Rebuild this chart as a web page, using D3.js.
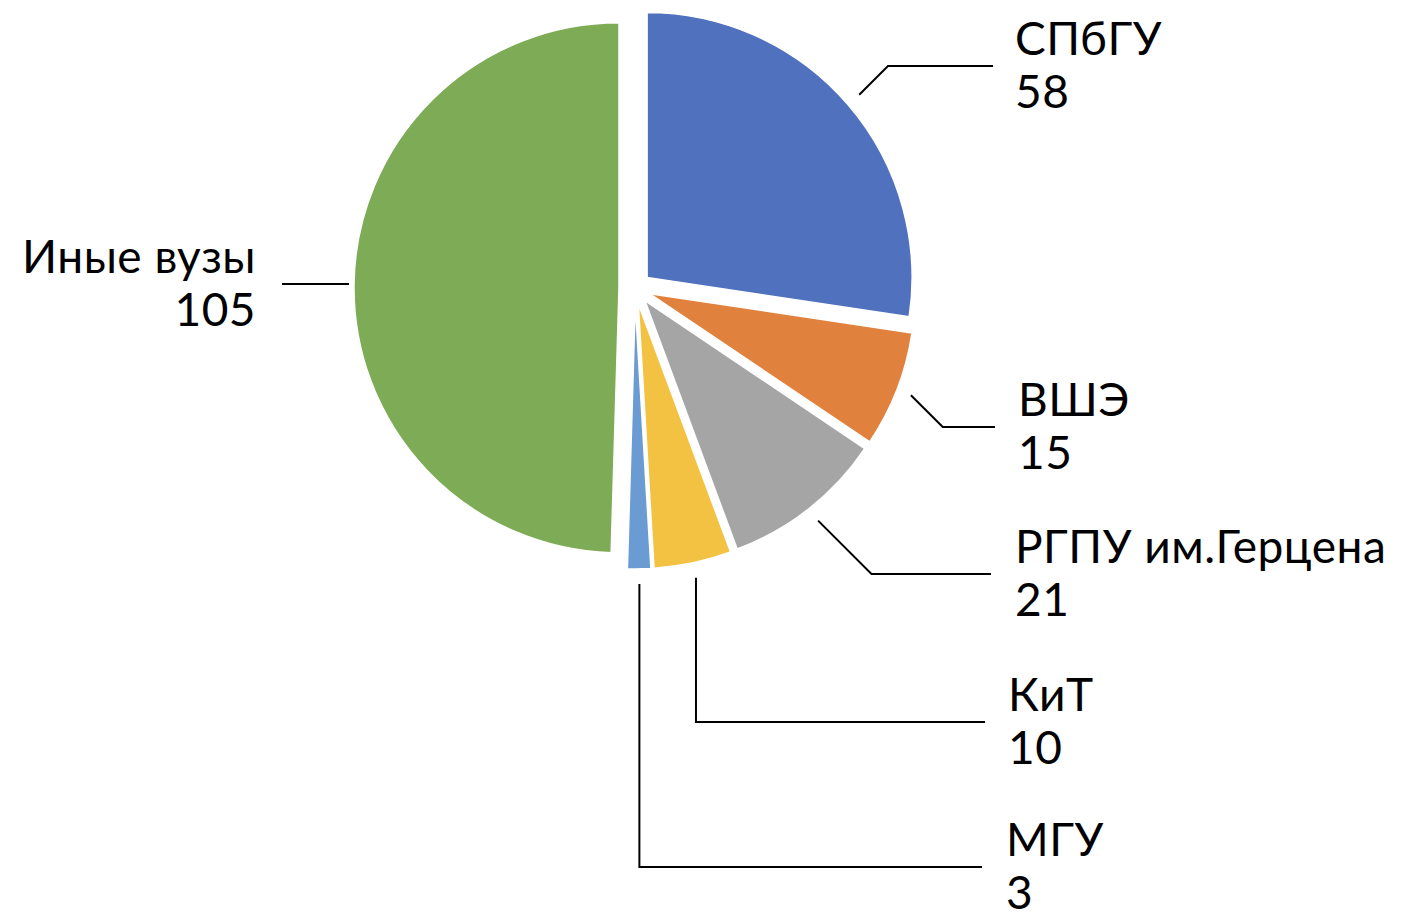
<!DOCTYPE html>
<html>
<head>
<meta charset="utf-8">
<script src="https://cdn.jsdelivr.net/npm/d3@7"></script>
<style>
  body { margin: 0; background: #fff; }
  svg text { font-family: Lato, "Open Sans", sans-serif; fill: #000; letter-spacing: 0.5px; }
</style>
</head>
<body>
<div id="chart"></div>
<script>
// Data
const categories = ['СПбГУ', 'ВШЭ', 'РГПУ им.Герцена', 'КиТ', 'МГУ', 'Иные вузы'];
const values = [58, 15, 21, 10, 3, 105];
const colors = ['#4F71BE', '#E0823D', '#A5A5A5', '#F3C243', '#6A9BD2', '#7EAB55'];

// Label layout: x of text, y of leader line (centre of the two-line label), leader style
const labelLayout = [
    {x: 1015, y: 66, lineEnd: 993, bend: 'diag', anchor: 'start'},
    {x: 1018, y: 427, lineEnd: 995, bend: 'diag', anchor: 'start'},
    {x: 1015, y: 574, lineEnd: 991, bend: 'diag', anchor: 'start'},
    {x: 1008, y: 722, lineEnd: 985, bend: 'vert', anchor: 'start'},
    {x: 1006, y: 867, lineEnd: 982, bend: 'vert', anchor: 'start'},
    {x: 256, y: 284, lineEnd: 282, bend: 'flat', anchor: 'end'}
];

const width = 1401;
const height = 915;
const cx = 635, cy = 288;
const radius = 265;
const explode = 16;

const svg = d3.select('#chart')
    .append('svg')
    .attr('width', width)
    .attr('height', height);

const g = svg.append('g')
    .attr('transform', `translate(${cx},${cy})`);

const data = categories.map((c, i) => ({name: c, value: values[i], color: colors[i], layout: labelLayout[i]}));

const pie = d3.pie()
    .sort(null)
    .value(d => d.value);

const arc = d3.arc()
    .innerRadius(0)
    .outerRadius(radius);

const arcs = pie(data);

// direction of slice middle
function dir(d) {
    const a = (d.startAngle + d.endAngle) / 2;
    return [Math.sin(a), -Math.cos(a)];
}

// Slices
g.selectAll('path.slice')
    .data(arcs)
    .enter()
    .append('path')
    .attr('class', 'slice')
    .attr('transform', d => {
        const [dx, dy] = dir(d);
        return `translate(${dx * explode},${dy * explode})`;
    })
    .attr('d', arc)
    .attr('fill', d => d.data.color)
    .attr('stroke', '#fff')
    .attr('stroke-width', 1.5);

// Leader lines
svg.selectAll('path.leader')
    .data(arcs)
    .enter()
    .append('path')
    .attr('class', 'leader')
    .attr('fill', 'none')
    .attr('stroke', '#000')
    .attr('stroke-width', 2)
    .attr('d', d => {
        const [dx, dy] = dir(d);
        const L = d.data.layout;
        const sx = cx + dx * (explode + radius + 15);
        const sy = cy + dy * (explode + radius + 15);
        const p = d3.path();
        if (L.bend === 'flat') {
            p.moveTo(sx + 10, L.y);
            p.lineTo(L.lineEnd, L.y);
        } else if (L.bend === 'vert') {
            p.moveTo(sx, sy);
            p.lineTo(sx, L.y);
            p.lineTo(L.lineEnd, L.y);
        } else {
            const bx = sx + Math.abs(L.y - sy) * Math.sign(dx);
            p.moveTo(sx, sy);
            p.lineTo(bx, L.y);
            p.lineTo(L.lineEnd, L.y);
        }
        return p.toString();
    });

// Labels
const labels = svg.selectAll('text.label')
    .data(arcs)
    .enter()
    .append('text')
    .attr('class', 'label')
    .attr('font-size', 46)
    .attr('text-anchor', d => d.data.layout.anchor);

labels.append('tspan')
    .attr('x', d => d.data.layout.x)
    .attr('y', d => d.data.layout.y - 11)
    .text(d => d.data.name);

labels.append('tspan')
    .attr('x', d => d.data.layout.x)
    .attr('y', d => d.data.layout.y + 42)
    .text(d => d.data.value);
</script>
</body>
</html>
